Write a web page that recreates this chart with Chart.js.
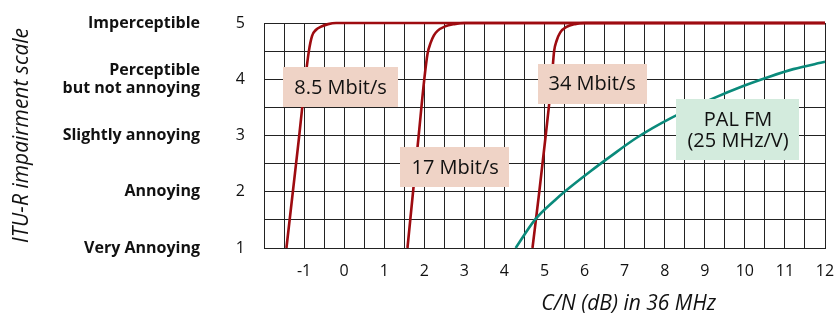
<!DOCTYPE html>
<html>
<head>
<meta charset="utf-8">
<script src="https://cdn.jsdelivr.net/npm/chart.js@4"></script>
<style>
  html, body { margin: 0; padding: 0; background: #fff; }
  #wrap { width: 834px; height: 320px; }
</style>
</head>
<body>
<div id="wrap"><canvas id="c" width="834" height="320"></canvas></div>
<script>
// ---- data ----
const xTickValues = [-1,0,1,2,3,4,5,6,7,8,9,10,11,12];
const impairmentLevels = [1,2,3,4,5];
const impairmentLabels = ['Very Annoying','Annoying','Slightly annoying',['Perceptible','but not annoying'],'Imperceptible'];

const cn_8_5 = [-1.44,-1.28,-1.12,-0.97,-0.88,-0.80,-0.70,-0.59,-0.40,-0.20,12];
const q_8_5  = [1,2,3,4,4.5,4.77,4.88,4.93,4.98,5,5];

const cn_17 = [1.58,1.72,1.86,2.00,2.08,2.16,2.24,2.33,2.52,2.75,3.00,12];
const q_17  = [1,2,3,4,4.45,4.65,4.78,4.86,4.94,4.98,5,5];

const cn_34 = [4.70,4.87,5.03,5.18,5.24,5.30,5.39,5.55,5.76,6.00,12];
const q_34  = [1,2,3,4,4.5,4.68,4.83,4.93,4.98,5,5];

const cn_pal = [4.28,4.76,5.26,5.50,6.14,6.63,7.30,8.13,9.21,9.96,10.63,11.21,12.0];
const q_pal  = [1.0,1.5,1.85,2.0,2.36,2.62,2.96,3.30,3.66,3.88,4.05,4.18,4.31];

const seriesNames = ['8.5 Mbit/s','17 Mbit/s','34 Mbit/s',['PAL FM','(25 MHz/V)']];

// ---- label boxes (placement in data coordinates) ----
const boxLabels = [
  { text: [seriesNames[0]], x: -0.09, y: 3.86, fill: '#EFD3C6' },
  { text: [seriesNames[1]], x: 2.77,  y: 2.44, fill: '#EFD3C6' },
  { text: [seriesNames[2]], x: 6.19,  y: 3.92, fill: '#EFD3C6' },
  { text: seriesNames[3],   x: 9.83,  y: 3.11, fill: '#D3EBDD' }
];

const RED = '#9E0B10';
const TEAL = '#0A8A7B';
const GRID = '#222222';
const FONT = "'Open Sans', 'Noto Sans', sans-serif";

Chart.defaults.font.family = FONT;
Chart.defaults.color = '#111';

function pts(xs, ys) { return xs.map((x, i) => ({ x: x, y: ys[i] })); }

const boxPlugin = {
  id: 'boxLabels',
  afterDatasetsDraw(chart) {
    const ctx = chart.ctx;
    const xs = chart.scales.x, ys = chart.scales.y;
    ctx.save();
    ctx.font = "20px " + FONT;
    ctx.textAlign = 'center';
    ctx.textBaseline = 'middle';
    boxLabels.forEach(b => {
      const cx = xs.getPixelForValue(b.x);
      const cy = ys.getPixelForValue(b.y);
      const lh = 21;
      let w = 0;
      b.text.forEach(t => { w = Math.max(w, ctx.measureText(t).width); });
      const bw = w + 22;
      const bh = b.text.length * lh + 19;
      ctx.fillStyle = b.fill;
      ctx.fillRect(Math.round(cx - bw / 2), Math.round(cy - bh / 2), Math.round(bw), bh);
      ctx.fillStyle = '#111';
      b.text.forEach((t, i) => {
        ctx.fillText(t, cx, cy - (b.text.length - 1) * lh / 2 + i * lh + 1);
      });
    });
    ctx.restore();
  },
  afterDraw(chart) {
    const ctx = chart.ctx;
    const a = chart.chartArea;
    ctx.save();
    ctx.font = "italic 21px " + FONT;
    ctx.textAlign = 'center';
    ctx.textBaseline = 'middle';
    ctx.fillStyle = '#111';
    ctx.fillText('C/N (dB) in 36 MHz', a.left + 0.65 * (a.right - a.left), 304);
    ctx.restore();
  }
};

new Chart(document.getElementById('c'), {
  type: 'line',
  data: {
    datasets: [
      { label: 'PAL FM', data: pts(cn_pal, q_pal), borderColor: TEAL, borderWidth: 2.6 },
      { label: '8.5 Mbit/s', data: pts(cn_8_5, q_8_5), borderColor: RED, borderWidth: 2.6 },
      { label: '17 Mbit/s', data: pts(cn_17, q_17), borderColor: RED, borderWidth: 2.6 },
      { label: '34 Mbit/s', data: pts(cn_34, q_34), borderColor: RED, borderWidth: 2.6 }
    ]
  },
  options: {
    responsive: false,
    animation: false,
    devicePixelRatio: 1,
    layout: { padding: { top: 23, right: 9, bottom: 0, left: 0 } },
    elements: {
      point: { radius: 0, hoverRadius: 0 },
      line: { cubicInterpolationMode: 'monotone', fill: false }
    },
    datasets: { line: { clip: false } },
    plugins: { legend: { display: false }, tooltip: { enabled: false } },
    scales: {
      x: {
        type: 'linear', min: -2, max: 12,
        ticks: {
          stepSize: 0.5, autoSkip: false, maxRotation: 0, padding: 14,
          font: { size: 16 }, color: '#111',
          callback: v => (xTickValues.includes(v) ? String(v) : '')
        },
        grid: { color: GRID, lineWidth: 1, drawTicks: false },
        border: { color: GRID, width: 1 },
        afterFit(s) { s.height = 72; s.paddingLeft = 0; s.paddingRight = 0; }
      },
      y: {
        type: 'linear', position: 'left', weight: 0, min: 1, max: 5,
        ticks: {
          stepSize: 0.5, autoSkip: false, padding: 19,
          font: { size: 16 }, color: '#111',
          callback: v => (impairmentLevels.includes(v) ? String(v) : '')
        },
        grid: { color: GRID, lineWidth: 1, drawTicks: false },
        border: { color: GRID, width: 1 },
        afterFit(s) { s.width = 54; s.paddingTop = 0; s.paddingBottom = 0; }
      },
      y2: {
        type: 'linear', position: 'left', weight: 1, min: 1, max: 5,
        ticks: {
          stepSize: 1, autoSkip: false, padding: 10,
          font: { size: 16, weight: 'bold', lineHeight: 1.15 }, color: '#111',
          callback: v => { const i = impairmentLevels.indexOf(v); return i >= 0 ? impairmentLabels[i] : ''; }
        },
        grid: { display: false, drawTicks: false },
        border: { display: false },
        title: {
          display: true, text: 'ITU-R impairment scale',
          font: { size: 21, style: 'italic' }, color: '#111',
          padding: { top: 9, bottom: 0 }
        },
        afterFit(s) { s.width = 210; s.paddingTop = 0; s.paddingBottom = 0; }
      }
    }
  },
  plugins: [boxPlugin]
});
</script>
</body>
</html>
